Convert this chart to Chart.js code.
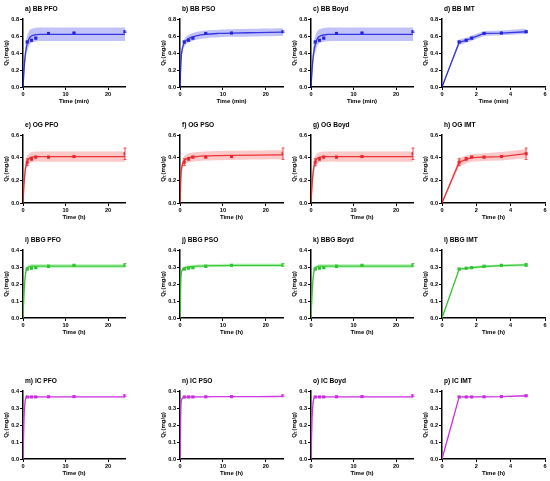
<!DOCTYPE html>
<html><head><meta charset="utf-8">
<script src="https://cdn.jsdelivr.net/npm/chart.js@4.4.1/dist/chart.umd.min.js"></script>
<style>
body{margin:0;background:#fff;width:550px;height:481px;position:relative;overflow:hidden}
canvas{position:absolute}
</style></head><body>
<script>
// sampling times (h or min) and sqrt(t) axis for IMT
const times = [1, 2, 3, 6, 12, 24];
const imtX = [0, 1, 1.41, 1.73, 2.45, 3.46, 4.9];
const fitT = [0, 0.25, 0.5, 0.75, 1, 1.5, 2, 3, 4, 6, 9, 12, 18, 24];

// measured Qt
const bbQ  = [0.53, 0.55, 0.575, 0.63, 0.635, 0.65];
const bbE  = [0.01, 0.01, 0.01, 0.008, 0.008, 0.01];
const ogQ  = [0.36, 0.39, 0.405, 0.405, 0.41, 0.435];
const ogE  = [0.03, 0.012, 0.008, 0.006, 0.006, 0.05];
const bbgQ = [0.288, 0.293, 0.296, 0.304, 0.31, 0.312];
const bbgE = [0.004, 0.004, 0.004, 0.006, 0.004, 0.008];
const icQ  = [0.365, 0.365, 0.365, 0.366, 0.367, 0.372];
const icE  = [0.003, 0.003, 0.003, 0.003, 0.003, 0.005];

// model curves and confidence bands (on fitT)
const bbPfo   = [0, 0.21, 0.36, 0.45, 0.51, 0.575, 0.6, 0.615, 0.619, 0.62, 0.62, 0.62, 0.62, 0.62];
const bbPfoHi = [0, 0.26, 0.44, 0.55, 0.61, 0.665, 0.685, 0.697, 0.7, 0.7, 0.7, 0.7, 0.7, 0.7];
const bbPfoLo = [0, 0.16, 0.29, 0.37, 0.42, 0.49, 0.52, 0.535, 0.54, 0.54, 0.54, 0.54, 0.54, 0.54];
const bbPso   = [0, 0.33, 0.44, 0.49, 0.52, 0.55, 0.57, 0.59, 0.605, 0.62, 0.63, 0.635, 0.64, 0.645];
const bbPsoHi = [0, 0.38, 0.49, 0.535, 0.565, 0.595, 0.615, 0.635, 0.65, 0.665, 0.675, 0.68, 0.685, 0.69];
const bbPsoLo = [0, 0.28, 0.39, 0.445, 0.475, 0.505, 0.525, 0.545, 0.56, 0.575, 0.585, 0.59, 0.595, 0.6];
const bbBoyd   = [0, 0.2, 0.35, 0.44, 0.5, 0.57, 0.595, 0.613, 0.618, 0.62, 0.62, 0.62, 0.62, 0.62];
const bbBoydHi = [0, 0.25, 0.43, 0.54, 0.6, 0.66, 0.68, 0.695, 0.7, 0.7, 0.7, 0.7, 0.7, 0.7];
const bbBoydLo = [0, 0.15, 0.28, 0.36, 0.41, 0.485, 0.515, 0.532, 0.538, 0.54, 0.54, 0.54, 0.54, 0.54];
const bbImt   = [0, 0.525, 0.55, 0.575, 0.63, 0.635, 0.65];
const bbImtHi = [0, 0.56, 0.58, 0.605, 0.66, 0.665, 0.685];
const bbImtLo = [0, 0.495, 0.52, 0.545, 0.6, 0.61, 0.625];

const ogPfo   = [0, 0.17, 0.28, 0.34, 0.37, 0.395, 0.405, 0.41, 0.41, 0.41, 0.41, 0.41, 0.41, 0.41];
const ogPfoHi = [0, 0.21, 0.33, 0.39, 0.42, 0.44, 0.45, 0.455, 0.455, 0.455, 0.455, 0.455, 0.455, 0.455];
const ogPfoLo = [0, 0.13, 0.23, 0.29, 0.32, 0.35, 0.36, 0.365, 0.365, 0.365, 0.365, 0.365, 0.365, 0.365];
const ogPso   = [0, 0.26, 0.33, 0.36, 0.375, 0.39, 0.398, 0.405, 0.41, 0.415, 0.418, 0.42, 0.423, 0.425];
const ogPsoHi = [0, 0.3, 0.37, 0.4, 0.415, 0.43, 0.438, 0.445, 0.45, 0.455, 0.458, 0.46, 0.463, 0.465];
const ogPsoLo = [0, 0.22, 0.29, 0.32, 0.335, 0.35, 0.358, 0.365, 0.37, 0.375, 0.378, 0.38, 0.383, 0.385];
const ogBoyd   = [0, 0.16, 0.27, 0.33, 0.365, 0.393, 0.403, 0.409, 0.41, 0.41, 0.41, 0.41, 0.41, 0.41];
const ogBoydHi = [0, 0.2, 0.32, 0.38, 0.415, 0.438, 0.448, 0.454, 0.455, 0.455, 0.455, 0.455, 0.455, 0.455];
const ogBoydLo = [0, 0.12, 0.22, 0.28, 0.315, 0.348, 0.358, 0.364, 0.365, 0.365, 0.365, 0.365, 0.365, 0.365];
const ogImt   = [0, 0.36, 0.385, 0.4, 0.405, 0.41, 0.435];
const ogImtHi = [0, 0.4, 0.42, 0.43, 0.44, 0.45, 0.475];
const ogImtLo = [0, 0.32, 0.35, 0.365, 0.37, 0.375, 0.395];

const bbgPfo   = [0, 0.15, 0.24, 0.28, 0.295, 0.302, 0.305, 0.305, 0.305, 0.305, 0.305, 0.305, 0.305, 0.305];
const bbgPfoHi = [0, 0.17, 0.26, 0.295, 0.308, 0.315, 0.318, 0.318, 0.318, 0.318, 0.318, 0.318, 0.318, 0.318];
const bbgPfoLo = [0, 0.13, 0.22, 0.265, 0.282, 0.289, 0.292, 0.292, 0.292, 0.292, 0.292, 0.292, 0.292, 0.292];
const bbgPso   = [0, 0.25, 0.28, 0.29, 0.295, 0.298, 0.3, 0.303, 0.305, 0.307, 0.308, 0.309, 0.31, 0.31];
const bbgPsoHi = [0, 0.26, 0.29, 0.3, 0.305, 0.308, 0.31, 0.313, 0.315, 0.317, 0.318, 0.319, 0.32, 0.32];
const bbgPsoLo = [0, 0.24, 0.27, 0.28, 0.285, 0.288, 0.29, 0.293, 0.295, 0.297, 0.298, 0.299, 0.3, 0.3];
const bbgBoyd   = [0, 0.14, 0.235, 0.278, 0.294, 0.302, 0.305, 0.305, 0.305, 0.305, 0.305, 0.305, 0.305, 0.305];
const bbgBoydHi = [0, 0.16, 0.255, 0.293, 0.307, 0.315, 0.318, 0.318, 0.318, 0.318, 0.318, 0.318, 0.318, 0.318];
const bbgBoydLo = [0, 0.12, 0.215, 0.263, 0.281, 0.289, 0.292, 0.292, 0.292, 0.292, 0.292, 0.292, 0.292, 0.292];
const bbgImt   = [0, 0.288, 0.292, 0.296, 0.303, 0.308, 0.312];
const bbgImtHi = [0, 0.295, 0.3, 0.304, 0.311, 0.316, 0.321];
const bbgImtLo = [0, 0.281, 0.285, 0.289, 0.295, 0.3, 0.304];

const icPfo   = [0, 0.25, 0.34, 0.36, 0.365, 0.366, 0.366, 0.366, 0.366, 0.366, 0.366, 0.366, 0.366, 0.366];
const icPfoHi = [0, 0.255, 0.344, 0.363, 0.368, 0.369, 0.369, 0.369, 0.369, 0.369, 0.369, 0.369, 0.369, 0.369];
const icPfoLo = [0, 0.245, 0.336, 0.357, 0.362, 0.363, 0.363, 0.363, 0.363, 0.363, 0.363, 0.363, 0.363, 0.363];
const icPso   = [0, 0.33, 0.355, 0.36, 0.362, 0.364, 0.365, 0.365, 0.366, 0.366, 0.367, 0.367, 0.367, 0.368];
const icPsoHi = [0, 0.334, 0.358, 0.363, 0.365, 0.367, 0.368, 0.368, 0.369, 0.369, 0.37, 0.37, 0.37, 0.371];
const icPsoLo = [0, 0.326, 0.352, 0.357, 0.359, 0.361, 0.362, 0.362, 0.363, 0.363, 0.364, 0.364, 0.364, 0.365];
const icBoyd   = [0, 0.24, 0.335, 0.358, 0.364, 0.366, 0.366, 0.366, 0.366, 0.366, 0.366, 0.366, 0.366, 0.366];
const icBoydHi = [0, 0.245, 0.339, 0.361, 0.367, 0.369, 0.369, 0.369, 0.369, 0.369, 0.369, 0.369, 0.369, 0.369];
const icBoydLo = [0, 0.235, 0.331, 0.355, 0.361, 0.363, 0.363, 0.363, 0.363, 0.363, 0.363, 0.363, 0.363, 0.363];
const icImt   = [0, 0.365, 0.365, 0.365, 0.366, 0.367, 0.372];
const icImtHi = [0, 0.368, 0.368, 0.368, 0.369, 0.37, 0.375];
const icImtLo = [0, 0.362, 0.362, 0.362, 0.363, 0.364, 0.369];

// grid placement of panels
const colX = [23, 180, 311, 442];
const colW = [102, 103, 102, 103];
const rowY = [19, 135, 250, 391];
const rowH = [68, 68, 68, 68];

const FONT = 'Liberation Sans, Arial, sans-serif';

const errPlugin = {
  id: 'errbars',
  afterDatasetsDraw(chart, args, o) {
    const ctx = chart.ctx, xs = chart.scales.x, ys = chart.scales.y;
    ctx.save();
    ctx.strokeStyle = o.color; ctx.lineWidth = 0.8;
    o.x.forEach((xv, i) => {
      const px = xs.getPixelForValue(xv);
      const top = ys.getPixelForValue(o.y[i] + o.e[i]);
      const bot = ys.getPixelForValue(o.y[i] - o.e[i]);
      ctx.beginPath();
      ctx.moveTo(px, top); ctx.lineTo(px, bot);
      ctx.moveTo(px - 1.5, top); ctx.lineTo(px + 1.5, top);
      ctx.moveTo(px - 1.5, bot); ctx.lineTo(px + 1.5, bot);
      ctx.stroke();
    });
    ctx.restore();
  }
};

const titlePlugin = {
  id: 'ptitle',
  afterDraw(chart, args, o) {
    const ctx = chart.ctx, a = chart.chartArea;
    ctx.save();
    ctx.font = 'bold 6.6px ' + FONT;
    ctx.fillStyle = '#000';
    ctx.textBaseline = 'middle';
    ctx.fillText(o.text, a.left + 2, a.top - 10);
    ctx.restore();
  }
};

function pts(xs, ys) { return xs.map((x, i) => ({x: x, y: ys[i]})); }

function panel(col, row, title, xt, yt, fit, hi, lo, q, e, yMax, yStep, color, band, xLabel) {
  const PL = 26, PT = 17, PR = 8, PB = 18;
  const cv = document.createElement('canvas');
  cv.width = colW[col] + PL + PR;
  cv.height = rowH[row] + PT + PB;
  cv.style.left = (colX[col] - PL) + 'px';
  cv.style.top = (rowY[row] - PT) + 'px';
  document.body.appendChild(cv);
  const imt = col === 3;
  const px = imt ? imtX.slice(1) : times;
  const tickFont = {family: FONT, size: 5.6, weight: 'bold'};
  const axTitleFont = {family: FONT, size: 6, weight: 'bold'};
  new Chart(cv, {
    type: 'line',
    data: {datasets: [
      {data: pts(xt, lo), borderWidth: 0, pointRadius: 0, fill: false, backgroundColor: band, tension: imt ? 0 : 0.3},
      {data: pts(xt, hi), borderWidth: 0, pointRadius: 0, fill: '-1', backgroundColor: band, tension: imt ? 0 : 0.3},
      {data: pts(xt, fit), borderColor: color, borderWidth: 1.3, pointRadius: 0, fill: false,
        cubicInterpolationMode: imt ? 'default' : 'monotone', tension: 0},
      {data: pts(px, q), showLine: false, pointStyle: 'rect', pointRadius: 2.2, backgroundColor: color, borderWidth: 0}
    ]},
    options: {
      responsive: false, animation: false, devicePixelRatio: 1,
      layout: {padding: {left: 0, top: PT, right: PR, bottom: 0}},
      plugins: {legend: {display: false}, tooltip: {enabled: false},
        errbars: {x: px, y: q, e: e, color: color}, ptitle: {text: title}},
      scales: {
        x: {type: 'linear', min: 0, max: imt ? 6 : 24,
          ticks: {stepSize: imt ? 2 : 10, includeBounds: false, font: tickFont, color: '#000', padding: 1, maxRotation: 0},
          grid: {drawOnChartArea: false, color: '#000', tickLength: 3, lineWidth: 1},
          border: {color: '#000', width: 1.5},
          title: {display: true, text: xLabel, font: axTitleFont, color: '#000', padding: 0},
          afterFit: s => { s.height = PB; }},
        y: {min: 0, max: yMax,
          ticks: {stepSize: yStep, font: tickFont, color: '#000', padding: 1, callback: v => v.toFixed(1)},
          grid: {drawOnChartArea: false, color: '#000', tickLength: 3, lineWidth: 1},
          border: {color: '#000', width: 1.5},
          title: {display: true, text: 'Q\u209c (mg/g)', font: axTitleFont, color: '#000', padding: {top: 6, bottom: 0}},
          afterFit: s => { s.width = PL; }}
      }
    },
    plugins: [errPlugin, titlePlugin]
  });
}

const BB = ['rgb(30,30,215)', 'rgba(95,95,245,0.38)'];
const OG = ['rgb(232,32,40)', 'rgba(245,90,90,0.33)'];
const BBG = ['rgb(45,195,45)', 'rgba(80,215,80,0.33)'];
const IC = ['rgb(205,45,225)', 'rgba(215,90,235,0.3)'];

panel(0, 0, 'a) BB PFO', fitT, fitT, bbPfo, bbPfoHi, bbPfoLo, bbQ, bbE, 0.8, 0.2, BB[0], BB[1], 'Time (min)');
panel(1, 0, 'b) BB PSO', fitT, fitT, bbPso, bbPsoHi, bbPsoLo, bbQ, bbE, 0.8, 0.2, BB[0], BB[1], 'Time (min)');
panel(2, 0, 'c) BB Boyd', fitT, fitT, bbBoyd, bbBoydHi, bbBoydLo, bbQ, bbE, 0.8, 0.2, BB[0], BB[1], 'Time (min)');
panel(3, 0, 'd) BB IMT', imtX, imtX, bbImt, bbImtHi, bbImtLo, bbQ, bbE, 0.8, 0.2, BB[0], BB[1], 'Time (min)');

panel(0, 1, 'e) OG PFO', fitT, fitT, ogPfo, ogPfoHi, ogPfoLo, ogQ, ogE, 0.6, 0.2, OG[0], OG[1], 'Time (h)');
panel(1, 1, 'f) OG PSO', fitT, fitT, ogPso, ogPsoHi, ogPsoLo, ogQ, ogE, 0.6, 0.2, OG[0], OG[1], 'Time (h)');
panel(2, 1, 'g) OG Boyd', fitT, fitT, ogBoyd, ogBoydHi, ogBoydLo, ogQ, ogE, 0.6, 0.2, OG[0], OG[1], 'Time (h)');
panel(3, 1, 'h) OG IMT', imtX, imtX, ogImt, ogImtHi, ogImtLo, ogQ, ogE, 0.6, 0.2, OG[0], OG[1], 'Time (h)');

panel(0, 2, 'i) BBG PFO', fitT, fitT, bbgPfo, bbgPfoHi, bbgPfoLo, bbgQ, bbgE, 0.4, 0.1, BBG[0], BBG[1], 'Time (h)');
panel(1, 2, 'j) BBG PSO', fitT, fitT, bbgPso, bbgPsoHi, bbgPsoLo, bbgQ, bbgE, 0.4, 0.1, BBG[0], BBG[1], 'Time (h)');
panel(2, 2, 'k) BBG Boyd', fitT, fitT, bbgBoyd, bbgBoydHi, bbgBoydLo, bbgQ, bbgE, 0.4, 0.1, BBG[0], BBG[1], 'Time (h)');
panel(3, 2, 'l) BBG IMT', imtX, imtX, bbgImt, bbgImtHi, bbgImtLo, bbgQ, bbgE, 0.4, 0.1, BBG[0], BBG[1], 'Time (h)');

panel(0, 3, 'm) IC PFO', fitT, fitT, icPfo, icPfoHi, icPfoLo, icQ, icE, 0.4, 0.1, IC[0], IC[1], 'Time (h)');
panel(1, 3, 'n) IC PSO', fitT, fitT, icPso, icPsoHi, icPsoLo, icQ, icE, 0.4, 0.1, IC[0], IC[1], 'Time (h)');
panel(2, 3, 'o) IC Boyd', fitT, fitT, icBoyd, icBoydHi, icBoydLo, icQ, icE, 0.4, 0.1, IC[0], IC[1], 'Time (h)');
panel(3, 3, 'p) IC IMT', imtX, imtX, icImt, icImtHi, icImtLo, icQ, icE, 0.4, 0.1, IC[0], IC[1], 'Time (h)');
</script>
</body></html>
